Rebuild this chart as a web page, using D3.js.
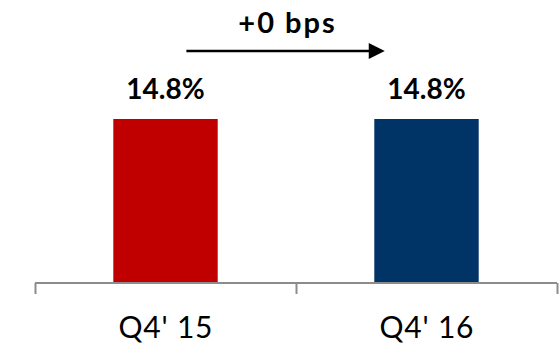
<!DOCTYPE html>
<html>
<head>
<meta charset="utf-8">
<script src="https://cdn.jsdelivr.net/npm/d3@7"></script>
<style>
  html, body { margin: 0; padding: 0; background: #fff; }
  svg { display: block; }
  text { font-family: Lato, "Open Sans", sans-serif; }
</style>
</head>
<body>
<svg id="chart" width="559" height="347"></svg>
<script>
// Chart data
const categories = ["Q4' 15", "Q4' 16"];
const values = [14.8, 14.8];
const valueLabels = ["14.8%", "14.8%"];
const barColors = ["#C00000", "#003366"];
const changeLabel = "+0 bps";

const svg = d3.select("#chart");
const axisY = 283;

const x = d3.scaleBand()
  .domain(categories)
  .range([35, 557])
  .paddingInner(0.6)
  .paddingOuter(0.3);

const y = d3.scaleLinear()
  .domain([0, 14.8])
  .range([axisY, 119]);

// Bars
svg.selectAll("rect.bar")
  .data(values)
  .join("rect")
  .attr("class", "bar")
  .attr("x", (d, i) => x(categories[i]))
  .attr("width", x.bandwidth())
  .attr("y", d => y(d))
  .attr("height", d => axisY - y(d))
  .attr("fill", (d, i) => barColors[i]);

// Value labels
svg.selectAll("text.val")
  .data(values)
  .join("text")
  .attr("class", "val")
  .attr("x", (d, i) => x(categories[i]) + x.bandwidth() / 2)
  .attr("y", d => y(d) - 20)
  .attr("text-anchor", "middle")
  .attr("font-size", 28)
  .attr("font-weight", 700)
  .attr("fill", "#000")
  .text((d, i) => valueLabels[i]);

// Category axis: baseline with ticks at band boundaries
const edges = d3.scaleLinear().domain([0, categories.length]).range(x.range());
const axis = d3.axisBottom(edges)
  .tickValues(d3.range(categories.length + 1))
  .tickSize(11)
  .tickSizeOuter(0)
  .tickFormat("");
const gAxis = svg.append("g")
  .attr("transform", `translate(0,${axisY})`)
  .call(axis);
gAxis.selectAll("path, line")
  .attr("stroke", "#8c8c8c")
  .attr("stroke-width", 2);
gAxis.select("path.domain").attr("d", `M${x.range()[0]},0H${x.range()[1]}`);

// Category labels
svg.selectAll("text.cat")
  .data(categories)
  .join("text")
  .attr("class", "cat")
  .attr("x", d => x(d) + x.bandwidth() / 2 + 0.4)
  .attr("y", 338)
  .attr("text-anchor", "middle")
  .attr("font-size", 30)
  .attr("letter-spacing", 0.8)
  .attr("fill", "#000")
  .text(d => d);

// Change arrow between the two bars
const arrowY = 51;
const ax0 = x(categories[0]) + x.bandwidth() * 0.7;
const ax1 = x(categories[1]) + x.bandwidth() * 0.1;
svg.append("line")
  .attr("x1", ax0).attr("x2", ax1 - 14)
  .attr("y1", arrowY).attr("y2", arrowY)
  .attr("stroke", "#000")
  .attr("stroke-width", 2.5);
svg.append("path")
  .attr("d", `M${ax1 - 16},${arrowY - 8}L${ax1},${arrowY}L${ax1 - 16},${arrowY + 8}Z`)
  .attr("fill", "#000");

svg.append("text")
  .attr("x", (ax0 + ax1) / 2 + 2)
  .attr("y", 33)
  .attr("text-anchor", "middle")
  .attr("font-size", 29)
  .attr("font-weight", 700)
  .attr("letter-spacing", 2)
  .attr("fill", "#000")
  .text(changeLabel);
</script>
</body>
</html>
